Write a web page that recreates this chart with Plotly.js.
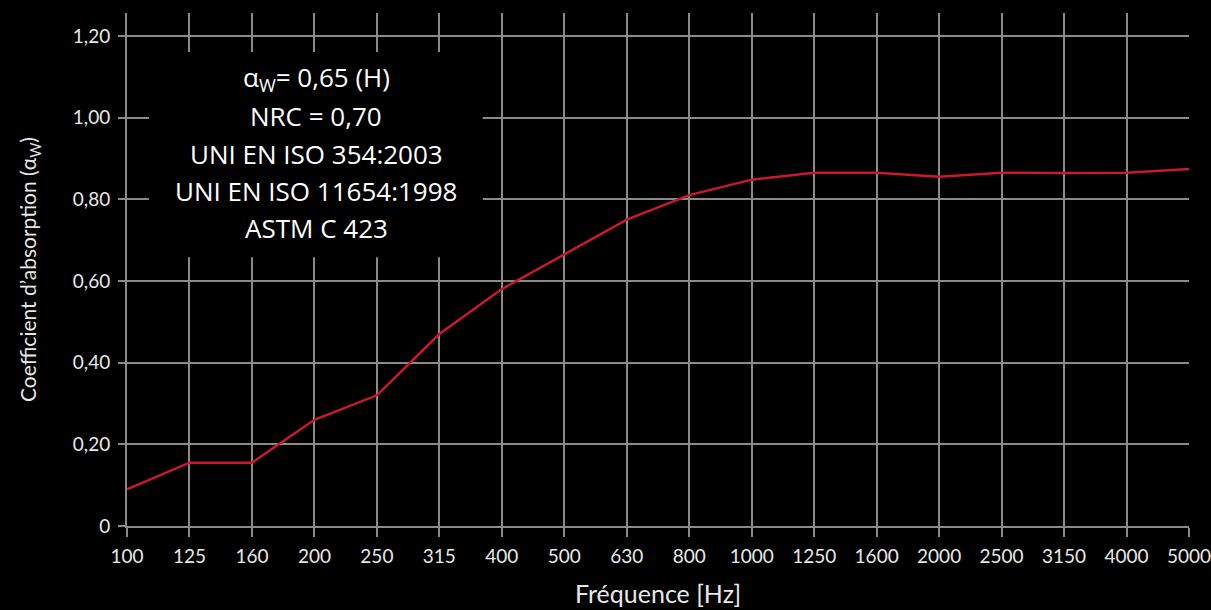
<!DOCTYPE html>
<html>
<head>
<meta charset="utf-8">
<script src="https://cdn.plot.ly/plotly-3.0.1.min.js"></script>
<style>html,body{margin:0;padding:0;background:#000;}#chart{width:1211px;height:610px;}</style>
</head>
<body>
<div id="chart"></div>
<script>
const frequencies = ["100","125","160","200","250","315","400","500","630","800","1000","1250","1600","2000","2500","3150","4000","5000"];
const absorption = [0.09,0.155,0.155,0.26,0.32,0.47,0.58,0.665,0.75,0.81,0.848,0.865,0.865,0.855,0.865,0.864,0.865,0.874];
const yTickValues = [0,0.2,0.4,0.6,0.8,1.0,1.2];
const yTickLabels = ["0","0,20","0,40","0,60","0,80","1,00","1,20"];
const infoLines = ["α<sub>W</sub>= 0,65 (H)","NRC = 0,70","UNI EN ISO 354:2003","UNI EN ISO 11654:1998","ASTM C 423"];

const gridColor = "#8a8a8a";
const textColor = "#e8e8e8";

const lineYs = [0.874, 0.799, 0.725, 0.653, 0.581];
const annotations = infoLines.map((t,i)=>({
  text: t, xref:"paper", yref:"paper", x:0.178, y:lineYs[i],
  xanchor:"center", yanchor:"middle", showarrow:false,
  font:{family:"Open Sans", size:26, color:"#ffffff"}
}));

Plotly.newPlot("chart", [{
  x: frequencies, y: absorption, type:"scatter", mode:"lines",
  line:{color:"#c8192e", width:2.5}, hoverinfo:"skip"
}], {
  width:1211, height:610,
  paper_bgcolor:"#000", plot_bgcolor:"#000",
  margin:{l:127, r:22, t:13, b:84},
  showlegend:false,
  xaxis:{
    type:"category", range:[0,17],
    showgrid:true, gridcolor:gridColor, gridwidth:2,
    showline:true, linecolor:gridColor, linewidth:2,
    ticks:"outside", ticklen:9, tickwidth:2, tickcolor:gridColor,
    ticklabelstandoff:3,
    tickfont:{family:"Lato", size:19, color:textColor},
    title:{text:"Fréquence [Hz]", font:{family:"Lato", size:25, color:textColor}, standoff:20},
    zeroline:false, fixedrange:true
  },
  yaxis:{
    range:[0,1.256],
    tickvals:yTickValues, ticktext:yTickLabels,
    showgrid:true, gridcolor:gridColor, gridwidth:2,
    showline:true, linecolor:gridColor, linewidth:2,
    ticks:"outside", ticklen:7, tickwidth:2, tickcolor:gridColor,
    ticklabelstandoff:4,
    tickfont:{family:"Lato", size:19, color:textColor},
    title:{text:"Coefficient d’absorption (α<sub>W</sub>)", font:{family:"Lato", size:21, color:textColor}, standoff:30},
    zeroline:false, fixedrange:true
  },
  shapes:[{type:"rect", xref:"paper", yref:"paper", x0:0.0207, x1:0.335, y0:0.524, y1:0.924,
    fillcolor:"#000", line:{width:0}, layer:"above"}],
  annotations: annotations
}, {staticPlot:true});
</script>
</body>
</html>
